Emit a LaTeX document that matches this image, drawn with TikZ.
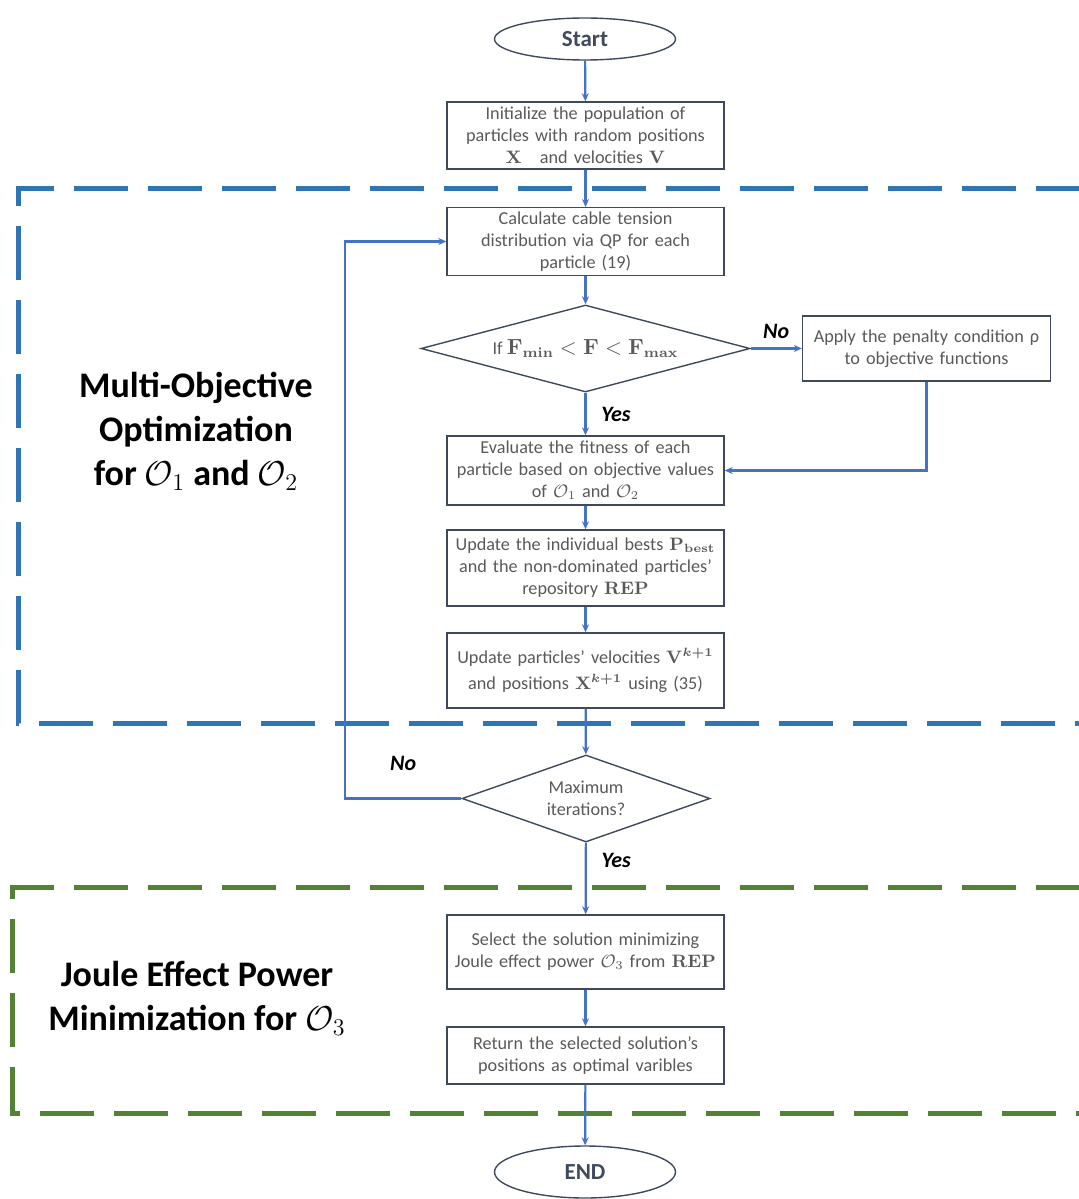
\documentclass[tikz,border=0pt]{standalone}
\usepackage{amsmath, amssymb}
\usepackage[no-math]{fontspec}
\setmainfont{Carlito}
\usepackage{tikz}
\usetikzlibrary{arrows.meta, shapes.geometric}
\definecolor{flowblue}{RGB}{68, 114, 196}
\definecolor{regionblue}{RGB}{46, 117, 182}
\definecolor{regiongreen}{RGB}{84, 130, 53}
\definecolor{boxline}{RGB}{62, 74, 92}
\definecolor{boxtext}{RGB}{89, 89, 89}

\begin{document}
\begin{tikzpicture}[
  x=0.5pt, y=-0.5pt,
  every node/.style={font=\fontsize{9.1}{11}\selectfont},
  term/.style={
    draw=boxline, ellipse, text=boxline, line width=0.7pt,
    minimum width=90.5pt, minimum height=21pt,
    font=\fontsize{11.5}{13}\selectfont\bfseries
  },
  box/.style={
    draw=boxline, text=boxtext, align=center, line width=0.7pt,
    text width=134pt, minimum width=138.5pt, inner sep=2pt
  },
  dec/.style={
    draw=boxline, diamond, text=boxtext, align=center,
    line width=0.7pt, inner sep=0pt
  },
  arrow/.style={-{Stealth[length=4pt, width=3.5pt]}, line width=1.1pt, draw=flowblue},
  label/.style={font=\fontsize{11}{13}\selectfont\bfseries\itshape},
  region/.style={line width=2.5pt, dash pattern=on 27pt off 10pt},
  title/.style={font=\fontsize{18}{22}\selectfont\bfseries, align=center}
]
  \useasboundingbox (0,0) rectangle (1078,1199);

  % Bereiche (gestrichelt, rechts offen)
  \draw[region, regionblue] (1090,188) -- (18,188) -- (18,723) -- (1090,723);
  \draw[region, regiongreen] (1090,887) -- (12,887) -- (12,1113) -- (1090,1113);

  \node[title] (motitle) at (196,431) {Multi-Objective\\Optimization\\for $\mathcal{O}_1$ and $\mathcal{O}_2$};
  \node[title] (jtitle) at (197,998) {Joule Effect Power\\Minimization for $\mathcal{O}_3$};

  % Hauptablauf
  \node[term] (start) at (585,39) {Start};
  \node[box, minimum height=33.5pt] (init) at (585.5,135.5) {Initialize the population of\\particles with random positions\\$\mathbf{X}$\quad and velocities $\mathbf{V}$};
  \node[box, minimum height=33.5pt] (calc) at (585.5,241.5) {Calculate cable tension\\distribution via QP for each\\particle (19)};
  \node[dec, aspect=3.78, minimum width=164.5pt, minimum height=43.5pt] (cond) at (585.5,348.5) {If {\fontsize{10.5}{12}\selectfont$\mathbf{F_{min}} < \mathbf{F} < \mathbf{F_{max}}$}};
  \node[box, text width=120pt, minimum width=123.5pt, minimum height=32.5pt] (pen) at (926.5,348.5) {Apply the penalty condition ρ\\to objective functions};
  \node[box, minimum height=34.5pt] (eval) at (585.5,470.5) {Evaluate the fitness of each\\particle based on objective values\\of $\mathcal{O}_1$ and $\mathcal{O}_2$};
  \node[box, minimum height=38pt] (bests) at (585.5,568) {Update the individual bests $\mathbf{P_{best}}$\\and the non-dominated particles’\\repository $\mathbf{REP}$};
  \node[box, minimum height=37.5pt] (vel) at (585.5,670.5) {Update particles’ velocities\ $\mathbf{V}^{\boldsymbol{k+1}}$\\[2pt]and positions\ $\mathbf{X}^{\boldsymbol{k+1}}$ using (35)};
  \node[dec, aspect=2.85, minimum width=124pt, minimum height=43.5pt] (maxit) at (586,798.5) {Maximum\\iterations?};
  \coordinate (loopcorner) at (345,798.5);

  % Joule-Teil
  \node[box, minimum height=37pt] (select) at (585.5,952) {Select the solution minimizing\\Joule effect power $\mathcal{O}_3$ from $\mathbf{REP}$};
  \node[box, minimum height=28.5pt] (ret) at (585.5,1055.5) {Return the selected solution’s\\positions as optimal varibles};
  \node[term, minimum height=26pt] (end) at (585,1172) {END};

  % Verbindungen
  \draw[arrow] (start) -- (init);
  \draw[arrow] (init) -- (calc);
  \draw[arrow] (calc) -- (cond);
  \draw[arrow] (cond) -- (pen) node[label, midway, above=1pt] {No};
  \draw[arrow] (cond) -- (eval) node[label, midway, right=4pt] {Yes};
  \draw[arrow] (pen.south) |- (eval.east);
  \draw[arrow] (eval) -- (bests);
  \draw[arrow] (bests) -- (vel);
  \draw[arrow] (vel) -- (maxit);
  \draw[arrow] (maxit.west) -- (loopcorner) node[label, midway, above=10pt] {No} |- (calc.west);
  \draw[arrow] (maxit) -- (select) node[label, pos=0.25, right=4pt] {Yes};
  \draw[arrow] (select) -- (ret);
  \draw[arrow] (ret) -- (end);

\end{tikzpicture}
\end{document}
